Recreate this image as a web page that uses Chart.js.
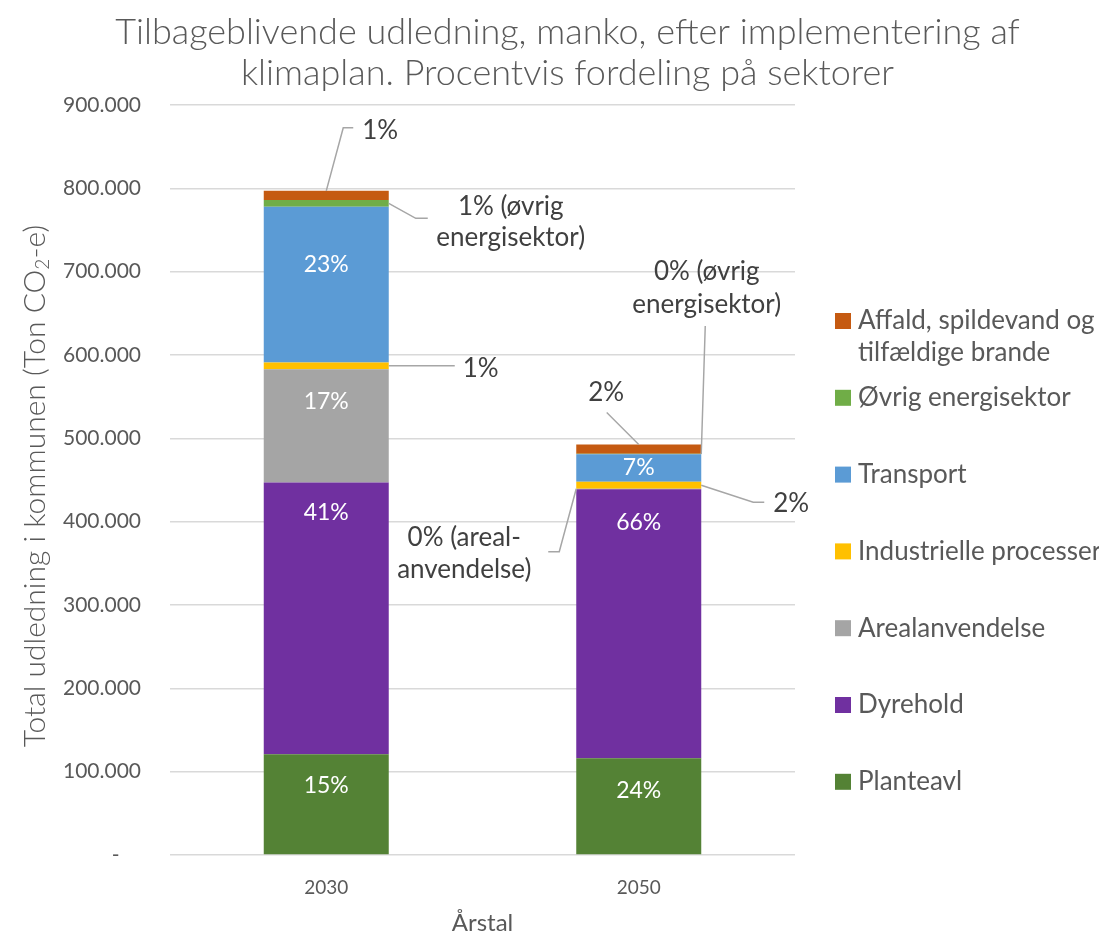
<!DOCTYPE html>
<html><head><meta charset="utf-8">
<script src="https://cdn.jsdelivr.net/npm/chart.js@4/dist/chart.umd.min.js"></script>
<style>html,body{margin:0;padding:0;overflow:hidden;background:#fff;width:1099px;height:935px}#wrap{width:1135px;height:935px}</style>
</head><body><div id="wrap"><canvas id="c" width="1135" height="935"></canvas></div>
<script>
// ---- data ----
const categories = ['2030', '2050'];
const planteavl = [121000, 116000];
const dyrehold = [326000, 323000];
const arealanvendelse = [136000, 500];
const industrielle = [8000, 8500];
const transport = [187000, 33000];
const oevrigEnergi = [8000, 500];
const affald = [11000, 11000];
const yTickLabels = ['-', '100.000', '200.000', '300.000', '400.000', '500.000', '600.000', '700.000', '800.000', '900.000'];
const seriesNames = ['Planteavl', 'Dyrehold', 'Arealanvendelse', 'Industrielle processer', 'Transport', 'Øvrig energisektor', 'Affald, spildevand og tilfældige brande'];
const legendLines = [['Planteavl'], ['Dyrehold'], ['Arealanvendelse'], ['Industrielle processer'], ['Transport'], ['Øvrig energisektor'], ['Affald, spildevand og', 'tilfældige brande']];
const chartTitle = ['Tilbageblivende udledning, manko, efter implementering af', 'klimaplan. Procentvis fordeling på sektorer'];
const yTitleParts = ['Total udledning i kommunen (Ton CO', '2', '-e)'];
const xTitle = 'Årstal';

const colors = ['#548235', '#7030A0', '#A5A5A5', '#FFC000', '#5B9BD5', '#70AD47', '#C55A11'];
const seriesValues = [planteavl, dyrehold, arealanvendelse, industrielle, transport, oevrigEnergi, affald];

const FONT = 'Lato, "Open Sans", sans-serif';

// label placement (pixel offsets relative to anchors on segments)
const labelSpecs = [
  {ds: 0, i: 0, type: 'in', dy: 31},
  {ds: 1, i: 0, type: 'in', dy: 30},
  {ds: 2, i: 0, type: 'in', dy: 32},
  {ds: 4, i: 0, type: 'in', dy: 58},
  {ds: 0, i: 1, type: 'in', dy: 32},
  {ds: 1, i: 1, type: 'in', dy: 33},
  {ds: 4, i: 1, type: 'center'},
  {ds: 6, i: 0, type: 'call', anchor: 'top', pts: [[17, -63], [27, -63]], tx: 54, ty: -60, lh: 31, lines: ['{p}']},
  {ds: 5, i: 0, type: 'call', anchor: 'rightmid', pts: [[27, 15], [39, 15]], tx: 122, ty: 3, lh: 31, lines: ['{p} (øvrig', 'energisektor)']},
  {ds: 3, i: 0, type: 'call', anchor: 'rightmid', pts: [[66, 0]], tx: 92, ty: 2.5, lh: 31, lines: ['{p}']},
  {ds: 6, i: 1, type: 'call', anchor: 'top', pts: [[-32, -32]], tx: -32.5, ty: -52, lh: 31, lines: ['{p}']},
  {ds: 5, i: 1, type: 'call', anchor: 'rightmid', pts: [[4, -128]], tx: 5.5, ty: -182, lh: 33, lines: ['{p} (øvrig', 'energisektor)']},
  {ds: 3, i: 1, type: 'call', anchor: 'rightmid', pts: [[52, 17], [63, 17]], tx: 90, ty: 18.5, lh: 31, lines: ['{p}']},
  {ds: 2, i: 1, type: 'call', anchor: 'lefttop', pts: [[-17, 63], [-28, 63]], tx: -112, ty: 49, lh: 31.6, lines: ['{p} (areal-', 'anvendelse)']}
];

const decorPlugin = {
  id: 'decor',
  afterDatasetsDraw(chart) {
    const ctx = chart.ctx;
    const totals = categories.map((_, i) => seriesValues.reduce((s, arr) => s + arr[i], 0));
    ctx.save();
    ctx.textAlign = 'center';
    ctx.textBaseline = 'middle';
    labelSpecs.forEach(sp => {
      const el = chart.getDatasetMeta(sp.ds).data[sp.i];
      const p = Math.round(seriesValues[sp.ds][sp.i] / totals[sp.i] * 100) + '%';
      const top = Math.min(el.y, el.base), bot = Math.max(el.y, el.base);
      const left = el.x - el.width / 2, right = el.x + el.width / 2;
      if (sp.type === 'in' || sp.type === 'center') {
        ctx.font = '23px ' + FONT;
        ctx.fillStyle = '#FFFFFF';
        const y = sp.type === 'center' ? (top + bot) / 2 : top + sp.dy;
        ctx.fillText(p, el.x, y);
        return;
      }
      let ax, ay;
      if (sp.anchor === 'top') { ax = el.x; ay = top; }
      else if (sp.anchor === 'rightmid') { ax = right; ay = (top + bot) / 2; }
      else { ax = left; ay = top; }
      ctx.strokeStyle = '#A6A6A6';
      ctx.lineWidth = 1.5;
      ctx.beginPath();
      ctx.moveTo(ax, ay);
      sp.pts.forEach(q => ctx.lineTo(ax + q[0], ay + q[1]));
      ctx.stroke();
      ctx.font = '26px ' + FONT;
      ctx.fillStyle = '#404040';
      sp.lines.forEach((ln, k) => ctx.fillText(ln.replace('{p}', p), ax + sp.tx, ay + sp.ty + k * sp.lh));
    });
    ctx.restore();
  },
  afterDraw(chart) {
    const ctx = chart.ctx;
    ctx.save();
    // title
    ctx.fillStyle = '#595959';
    ctx.textAlign = 'center';
    ctx.textBaseline = 'middle';
    ctx.font = '300 36px ' + FONT;
    ctx.fillText(chartTitle[0], chart.width / 2, 32);
    ctx.fillText(chartTitle[1], chart.width / 2, 73);
    // y title with subscript
    ctx.save();
    ctx.translate(35, 486);
    ctx.rotate(-Math.PI / 2);
    const fMain = '300 30px ' + FONT, fSub = '300 19px ' + FONT;
    ctx.font = fMain; const w0 = ctx.measureText(yTitleParts[0]).width; const w2 = ctx.measureText(yTitleParts[2]).width;
    ctx.font = fSub; const w1 = ctx.measureText(yTitleParts[1]).width;
    let x = -(w0 + w1 + w2) / 2;
    ctx.textAlign = 'left';
    ctx.font = fMain; ctx.fillText(yTitleParts[0], x, 0); x += w0;
    ctx.font = fSub; ctx.fillText(yTitleParts[1], x, 8); x += w1;
    ctx.font = fMain; ctx.fillText(yTitleParts[2], x, 0);
    ctx.restore();
    // legend (top to bottom = reversed series)
    ctx.font = '26px ' + FONT;
    ctx.textAlign = 'left';
    for (let k = 0; k < seriesNames.length; k++) {
      const idx = seriesNames.length - 1 - k;
      const cy = 321 + k * 76.8;
      ctx.fillStyle = colors[idx];
      ctx.fillRect(835, cy - 8, 16, 16);
      ctx.fillStyle = '#595959';
      legendLines[idx].forEach((ln, j) => ctx.fillText(ln, 858, cy + j * 32));
    }
    ctx.restore();
  }
};

new Chart(document.getElementById('c'), {
  type: 'bar',
  data: {
    labels: categories,
    datasets: seriesValues.map((vals, k) => ({
      label: seriesNames[k],
      data: vals,
      backgroundColor: colors[k],
      borderWidth: 0,
      barPercentage: 0.4,
      categoryPercentage: 1.0
    }))
  },
  options: {
    responsive: false,
    animation: false,
    layout: {padding: {left: 0, top: 105, right: 340, bottom: 0}},
    plugins: {legend: {display: false}, title: {display: false}, tooltip: {enabled: false}},
    scales: {
      x: {
        stacked: true,
        grid: {display: false},
        border: {display: false},
        ticks: {color: '#595959', font: {family: FONT, size: 19}, padding: 13},
        title: {display: true, text: xTitle, color: '#595959', font: {family: FONT, size: 24, lineHeight: 1}, padding: {top: 0, bottom: 0}},
        afterFit(s) { s.height = 80; }
      },
      y: {
        stacked: true,
        min: 0, max: 900000,
        grid: {color: '#D9D9D9', lineWidth: 1.5, drawTicks: false},
        border: {display: false},
        ticks: {
          stepSize: 100000,
          color: '#595959',
          font: {family: FONT, size: 21},
          padding: 29,
          callback: (v) => { const t = yTickLabels[Math.round(v / 100000)]; return t === '-' ? '-    ' : t; }
        },
        afterFit(s) { s.width = 170; }
      }
    }
  },
  plugins: [decorPlugin]
});
</script>
</body></html>
